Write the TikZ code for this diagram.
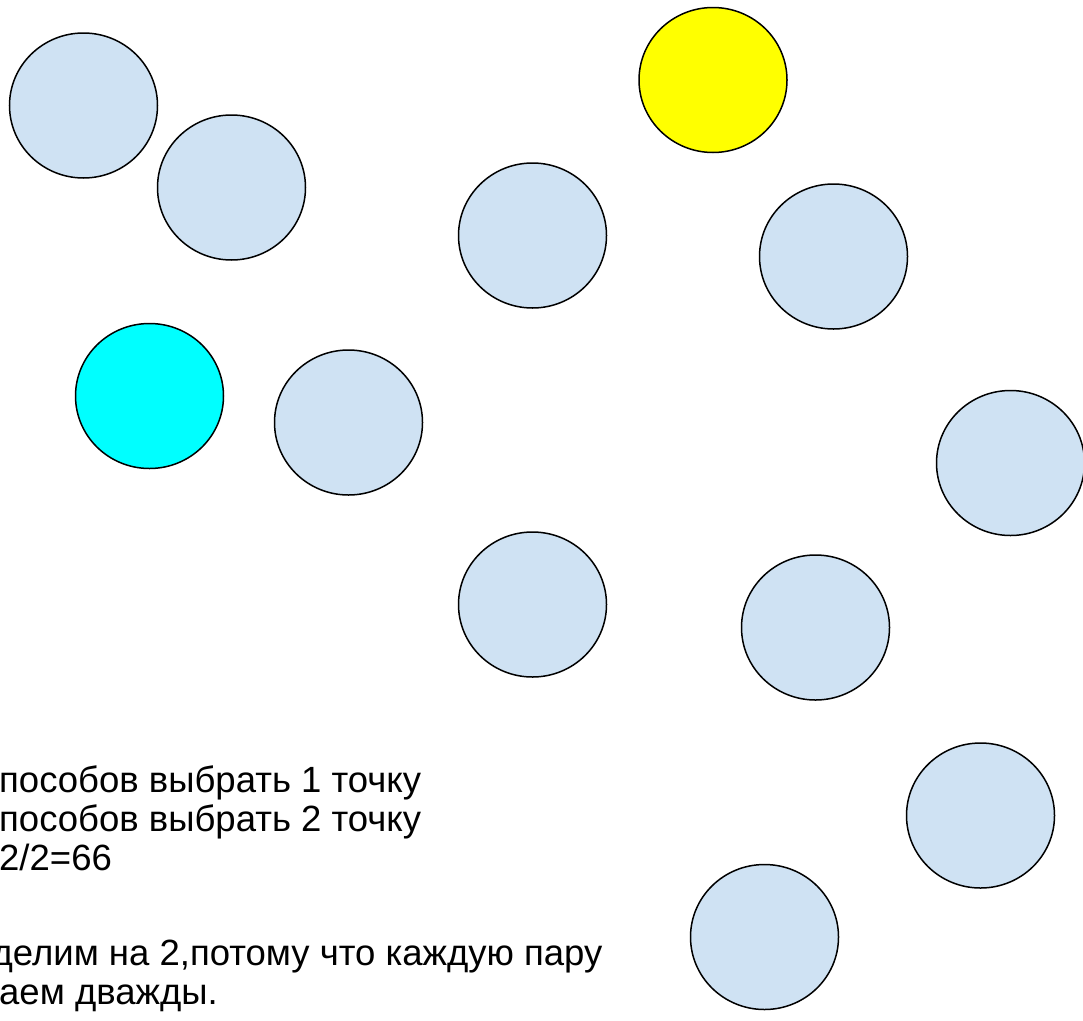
\documentclass[tikz,border=0pt]{standalone}
\usepackage{fontspec}
\setmainfont{Liberation Sans}
\usetikzlibrary{shapes.geometric}
\definecolor{ballblue}{RGB}{207,226,243}
\definecolor{ballcyan}{RGB}{0,255,255}
\definecolor{ballyellow}{RGB}{255,255,0}
\tikzset{
  ball/.style={ellipse, draw=black, line width=1.5pt, fill=ballblue,
    minimum width=148pt, minimum height=145pt, inner sep=0pt},
  txt/.style={anchor=base west, inner sep=0pt, font=\fontsize{36.5}{42}\selectfont}
}
\begin{document}
\begin{tikzpicture}[x=1pt,y=-1pt]
\useasboundingbox (0,0) rectangle (1083,1020);
\fill[white] (0,0) rectangle (1083,1020);
\clip (0,0) rectangle (1083,1020);
\node[ball] (b1) at (83.5,105.5) {};
\node[ball] (b2) at (231.5,187.5) {};
\node[ball, fill=ballcyan] (b3) at (149.5,396) {};
\node[ball] (b4) at (348.5,422.5) {};
\node[ball, fill=ballyellow] (b5) at (713,80) {};
\node[ball] (b6) at (532.5,235.5) {};
\node[ball] (b7) at (833.5,256.5) {};
\node[ball] (b8) at (1010.5,463) {};
\node[ball] (b9) at (532.5,604.5) {};
\node[ball] (b10) at (815.5,627.5) {};
\node[ball] (b11) at (980.5,815.5) {};
\node[ball] (b12) at (764.5,937) {};
\node[txt] (t1) at (-1,792) {пособов выбрать 1 точку};
\node[txt] (t2) at (-1,831) {пособов выбрать 2 точку};
\node[txt] (t3) at (-1,870) {2/2=66};
\node[txt] (t4) at (-8.5,965) {делим на 2,потому что каждую пару};
\node[txt] (t5) at (-1,1004) {аем дважды.};
\end{tikzpicture}
\end{document}
